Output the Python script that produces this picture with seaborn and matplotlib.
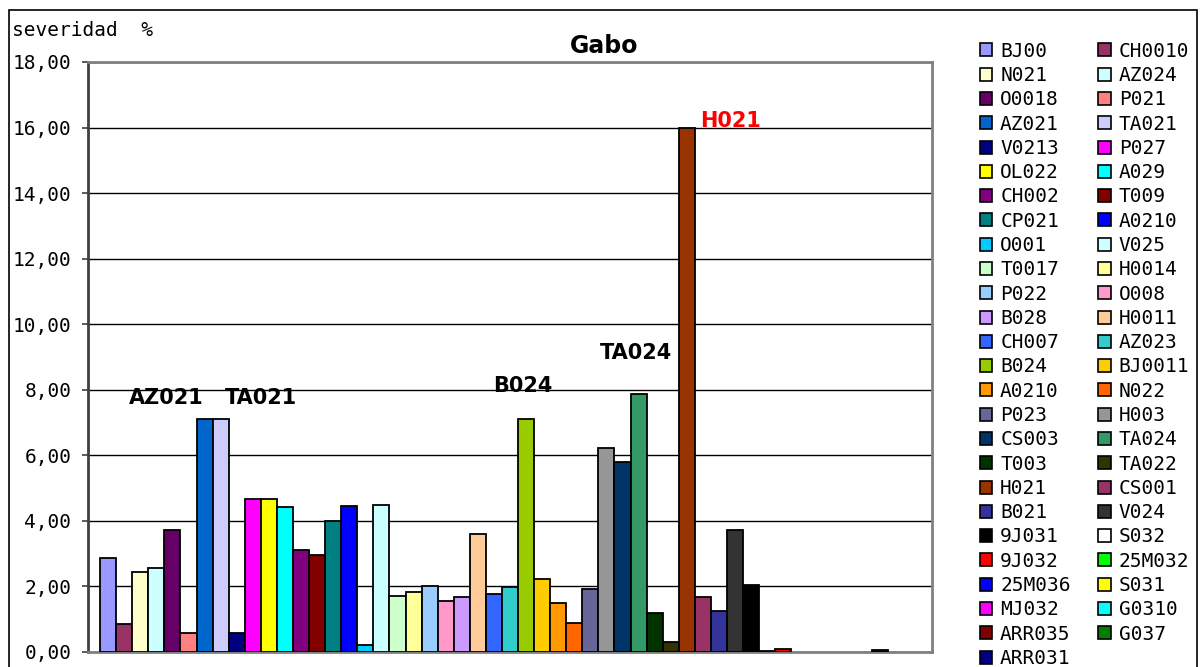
import numpy as np
import pandas as pd
import matplotlib
matplotlib.use("Agg")
import matplotlib.pyplot as plt
import seaborn as sns
from matplotlib.patches import Patch, Rectangle
from matplotlib.ticker import FuncFormatter

# ---- data ----
names = ["BJ00", "CH0010", "N021", "AZ024", "O0018", "P021", "AZ021", "TA021",
         "V0213", "P027", "OL022", "A029", "CH002", "T009", "CP021", "A0210",
         "O001", "V025", "T0017", "H0014", "P022", "O008", "B028", "H0011",
         "CH007", "AZ023", "B024", "BJ0011", "A0210", "N022", "P023", "H003",
         "CS003", "TA024", "T003", "TA022", "H021", "CS001", "B021", "V024",
         "9J031", "S032", "9J032", "25M032", "25M036", "S031", "MJ032", "G0310",
         "ARR035", "G037", "ARR031"]
severity = [2.86, 0.84, 2.45, 2.55, 3.73, 0.59, 7.10, 7.10,
            0.59, 4.67, 4.67, 4.41, 3.11, 2.97, 4.00, 4.45,
            0.21, 4.50, 1.72, 1.82, 2.02, 1.57, 1.67, 3.59,
            1.77, 1.97, 7.10, 2.24, 1.50, 0.89, 1.93, 6.21,
            5.81, 7.87, 1.20, 0.31, 16.00, 1.67, 1.26, 3.73,
            2.04, 0.02, 0.10, 0.0, 0.0, 0.0, 0.0, 0.0,
            0.05, 0.0, 0.0]
colors = ["#9999FF", "#993366", "#FFFFCC", "#CCFFFF", "#660066", "#FF8080", "#0066CC", "#CCCCFF",
          "#000080", "#FF00FF", "#FFFF00", "#00FFFF", "#800080", "#800000", "#008080", "#0000FF",
          "#00CCFF", "#CCFFFF", "#CCFFCC", "#FFFF99", "#99CCFF", "#FF99CC", "#CC99FF", "#FFCC99",
          "#3366FF", "#33CCCC", "#99CC00", "#FFCC00", "#FF9900", "#FF6600", "#666699", "#969696",
          "#003366", "#339966", "#003300", "#333300", "#993300", "#993366", "#333399", "#333333",
          "#000000", "#FFFFFF", "#FF0000", "#00FF00", "#0000FF", "#FFFF00", "#FF00FF", "#00FFFF",
          "#800000", "#008000", "#000080"]
yticks = [0, 2, 4, 6, 8, 10, 12, 14, 16, 18]
highlight = [("AZ021", 6, -2.4, 7.75, "black"),
             ("TA021", 7, 2.5, 7.75, "black"),
             ("B024", 26, -0.2, 8.11, "black"),
             ("TA024", 33, -0.17, 9.12, "black"),
             ("H021", 36, 2.74, 16.2, "red")]

sns.set_style("white")
plt.rcParams["font.family"] = ["DejaVu Sans"]
plt.rcParams["text.color"] = "black"
plt.rcParams["axes.labelcolor"] = "black"

df = pd.DataFrame({"idx": list(range(len(names))), "sev": severity})
pal = {i: c for i, c in enumerate(colors)}

fig = plt.figure(figsize=(12.01, 6.67), dpi=100)
fig.patch.set_facecolor("white")
ax = fig.add_axes([88 / 1201, 15 / 667, (932 - 88) / 1201, (652 - 62) / 667])

sns.barplot(data=df, x="idx", y="sev", hue="idx", palette=pal, legend=False,
            saturation=1, width=1.0, edgecolor="black", linewidth=1.3, ax=ax,
            zorder=3, order=list(range(len(names))),
            hue_order=list(range(len(names))))

for p in ax.patches:
    if p.get_height() == 0:
        p.set_visible(False)

ax.set_xlim(-1.25, len(names) - 1 + 1.25)
ax.set_ylim(0, 18)
ax.set_yticks(yticks)
ax.yaxis.set_major_formatter(FuncFormatter(lambda v, p: f"{v:.2f}".replace(".", ",")))
ax.set_xticks([])
ax.set_xlabel("")
ax.set_ylabel("")
ax.yaxis.grid(True, color="black", linewidth=1.0)
ax.set_axisbelow(True)
for s in ax.spines.values():
    s.set_visible(True)
    s.set_color("#808080")
    s.set_linewidth(2)
ax.spines["left"].set_color("#404040")
ax.tick_params(axis="y", left=True, length=4.5, width=1.2, color="#404040",
               pad=7.5, labelsize=14, labelcolor="black")
for t in ax.get_yticklabels():
    t.set_family("DejaVu Sans Mono")

for txt, i, dx, yv, col in highlight:
    ax.text(i + dx, yv, txt, ha="center", va="center", fontsize=15,
            fontweight="bold", color=col, zorder=5)

fig.text(604 / 1201, 1 - 46 / 667, "Gabo", ha="center", va="center",
         fontsize=17, fontweight="bold", color="black")
fig.text(12 / 1201, 1 - 31 / 667, "severidad  %", ha="left", va="center",
         fontsize=14, family="DejaVu Sans Mono", color="black")

# outer chart border
fig.patches.append(Rectangle((9 / 1201, -0.1), (1197 - 9) / 1201, 1.1 - 10 / 667,
                             transform=fig.transFigure, fill=False,
                             edgecolor="black", linewidth=1.2))

handles = [Patch(facecolor=c, edgecolor="black", linewidth=1.2) for c in colors]
order = list(range(0, len(names), 2)) + list(range(1, len(names), 2))
leg = fig.legend([handles[i] for i in order], [names[i] for i in order],
                 ncol=2, loc="upper left", bbox_to_anchor=(970 / 1201, 1 - 32 / 667),
                 frameon=False, borderpad=0, handlelength=0.65, handleheight=0.65,
                 handletextpad=0.4, columnspacing=1.42, labelspacing=0.272,
                 prop={"family": "DejaVu Sans Mono", "size": 14})
for t in leg.get_texts():
    t.set_color("black")

fig.savefig("out.png", dpi=100, facecolor="white")
